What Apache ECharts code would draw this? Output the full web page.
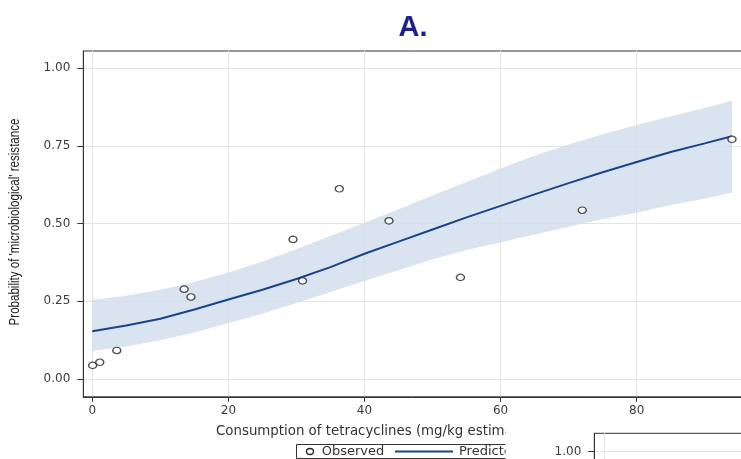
<!DOCTYPE html>
<html>
<head>
<meta charset="utf-8">
<script src="https://cdn.jsdelivr.net/npm/echarts@6.0.0/dist/echarts.min.js"></script>
<style>
  html, body { margin: 0; padding: 0; background: #fff; }
  #chart { width: 741px; height: 459px; }
</style>
</head>
<body>
<div id="chart"></div>
<script>
// Observed resistance rate per unit, by tetracycline consumption
const consumption  = [0.05, 1.1, 3.6, 13.5, 14.5, 29.5, 30.9, 36.3, 43.6, 54.1, 72.0, 94.0];
const observedRate = [0.044, 0.054, 0.092, 0.289, 0.264, 0.449, 0.316, 0.612, 0.509, 0.327, 0.543, 0.771];

// Fitted probability and its 95% confidence band
const fitX      = [0, 5, 10, 15, 20, 25, 30, 35, 40, 45, 50, 55, 60, 65, 70, 75, 80, 85, 90, 94];
const predicted = [0.154, 0.172, 0.194, 0.224, 0.256, 0.287, 0.322, 0.360, 0.403, 0.442, 0.481, 0.520, 0.557, 0.594, 0.630, 0.665, 0.698, 0.730, 0.758, 0.781];
const ciLower   = [0.090, 0.105, 0.125, 0.150, 0.180, 0.210, 0.245, 0.280, 0.315, 0.350, 0.385, 0.415, 0.440, 0.465, 0.490, 0.515, 0.535, 0.560, 0.580, 0.600];
const ciUpper   = [0.255, 0.268, 0.287, 0.312, 0.343, 0.378, 0.418, 0.460, 0.503, 0.546, 0.590, 0.634, 0.677, 0.718, 0.754, 0.787, 0.817, 0.845, 0.872, 0.895];

// Axis ticks
const xTicks = [0, 20, 40, 60, 80];
const yTicks = [0, 0.25, 0.5, 0.75, 1];

const pairs = (xs, ys) => xs.map((x, i) => [x, ys[i]]);

const LABEL_FONT = 'DejaVu Sans';
const INK = '#333';
const GRIDLINE = '#e4e4e4';

function valueXAxis(gridIndex, min, max, z, showLabels) {
  return {
    type: 'value', gridIndex, min, max, z,
    axisLine: { show: true, onZero: false, lineStyle: { color: INK, width: 1 } },
    axisTick: { show: true, customValues: xTicks, length: 5, lineStyle: { color: INK } },
    axisLabel: { show: showLabels, customValues: xTicks, margin: 8, color: '#3c3c3c',
                 fontFamily: LABEL_FONT, fontSize: 12 },
    splitLine: { show: true, lineStyle: { color: GRIDLINE, width: 1 } }
  };
}

function probYAxis(gridIndex, min, max, z) {
  return {
    type: 'value', gridIndex, min, max, z,
    axisLine: { show: true, onZero: false, lineStyle: { color: INK, width: 1 } },
    axisTick: { show: true, customValues: yTicks, length: 6, lineStyle: { color: INK } },
    axisLabel: { customValues: yTicks, margin: 13, color: '#3c3c3c',
                 fontFamily: LABEL_FONT, fontSize: 12,
                 formatter: v => v.toFixed(2) },
    splitLine: { show: true, lineStyle: { color: GRIDLINE, width: 1 } }
  };
}

// Confidence band as one polygon: upper edge left-to-right, lower edge back
function renderBand(params, api) {
  const upper = fitX.map((x, i) => api.coord([x, ciUpper[i]]));
  const lower = fitX.map((x, i) => api.coord([x, ciLower[i]])).reverse();
  return {
    type: 'polygon',
    shape: { points: upper.concat(lower) },
    style: { fill: 'rgba(211,223,238,0.86)' }
  };
}

const chart = echarts.init(document.getElementById('chart'), null, { renderer: 'canvas' });

chart.setOption({
  animation: false,
  backgroundColor: '#fff',
  grid: [
    { left: 83.3, top: 51, width: 689.5, height: 345.8, show: true,
      outerBoundsMode: 'none', containLabel: false,
      borderColor: INK, borderWidth: 1, backgroundColor: 'transparent' },
    { left: 594.3, top: 433.3, width: 800, height: 345.8, show: true, z: 20,
      outerBoundsMode: 'none', containLabel: false,
      borderColor: INK, borderWidth: 1, backgroundColor: '#fff' }
  ],
  xAxis: [
    valueXAxis(0, -1.32, 100, 0, true),
    valueXAxis(1, -1.27, 100, 20, false)
  ],
  yAxis: [
    probYAxis(0, -0.057, 1.055, 0),
    probYAxis(1, -0.053, 1.059, 20)
  ],
  series: [
    {
      name: '95% CI', type: 'custom', xAxisIndex: 0, yAxisIndex: 0,
      silent: true, z: 2,
      renderItem: renderBand,
      data: [[fitX[0], ciLower[0]]]
    },
    {
      name: 'Predicted', type: 'line', xAxisIndex: 0, yAxisIndex: 0,
      symbol: 'none', z: 3,
      lineStyle: { color: '#1b4486', width: 2 },
      data: pairs(fitX, predicted)
    },
    {
      name: 'Observed', type: 'scatter', xAxisIndex: 0, yAxisIndex: 0,
      symbol: 'circle', symbolSize: [8, 6.5], z: 4,
      itemStyle: { color: '#fff', borderColor: '#222', borderWidth: 1.3 },
      data: pairs(consumption, observedRate)
    }
  ],
  graphic: [
    {
      type: 'text', x: 413, y: 28, z: 1,
      style: { text: 'A.', fill: '#1c1f8c', font: 'bold 29px "Liberation Sans", Arial, sans-serif',
               textAlign: 'center', textVerticalAlign: 'middle' }
    },
    {
      // Condensed axis title: horizontal squeeze applied before the rotation
      type: 'text', x: 15, y: 222, rotation: Math.PI / 2, scaleX: 0.826, scaleY: 1, z: 1,
      style: { text: "Probability of 'microbiological' resistance", fill: '#222',
               font: '14px "Liberation Sans", Arial, sans-serif',
               textAlign: 'center', textVerticalAlign: 'middle' }
    },
    {
      type: 'text', x: 216, y: 431.7, z: 1,
      style: { text: 'Consumption of tetracyclines (mg/kg estimated biomass)', fill: INK,
               font: '13.35px "DejaVu Sans", sans-serif',
               textAlign: 'left', textVerticalAlign: 'middle' }
    },
    // Legend box
    {
      type: 'group', z: 1,
      children: [
        { type: 'rect', z: 1, shape: { x: 296.5, y: 444.5, width: 330, height: 14 },
          style: { fill: '#fff', stroke: INK, lineWidth: 1 } },
        { type: 'ellipse', z: 1, shape: { cx: 310, cy: 451.5, rx: 3.5, ry: 3 },
          style: { fill: '#fff', stroke: '#222', lineWidth: 1.3 } },
        { type: 'text', z: 1, x: 321.7, y: 451.7,
          style: { text: 'Observed', fill: INK, font: '13px "DejaVu Sans", sans-serif',
                   textAlign: 'left', textVerticalAlign: 'middle' } },
        { type: 'line', z: 1, shape: { x1: 395, y1: 451.5, x2: 453, y2: 451.5 },
          style: { stroke: '#1b4486', lineWidth: 2 } },
        { type: 'text', z: 1, x: 459, y: 451.7,
          style: { text: 'Predicted', fill: INK, font: '13px "DejaVu Sans", sans-serif',
                   textAlign: 'left', textVerticalAlign: 'middle' } }
      ]
    },
    // Background of the neighbouring panel, which overlaps this one
    {
      type: 'rect', z: 10, shape: { x: 505.5, y: 419, width: 236, height: 40 },
      style: { fill: '#fff' }
    }
  ]
});
</script>
</body>
</html>
